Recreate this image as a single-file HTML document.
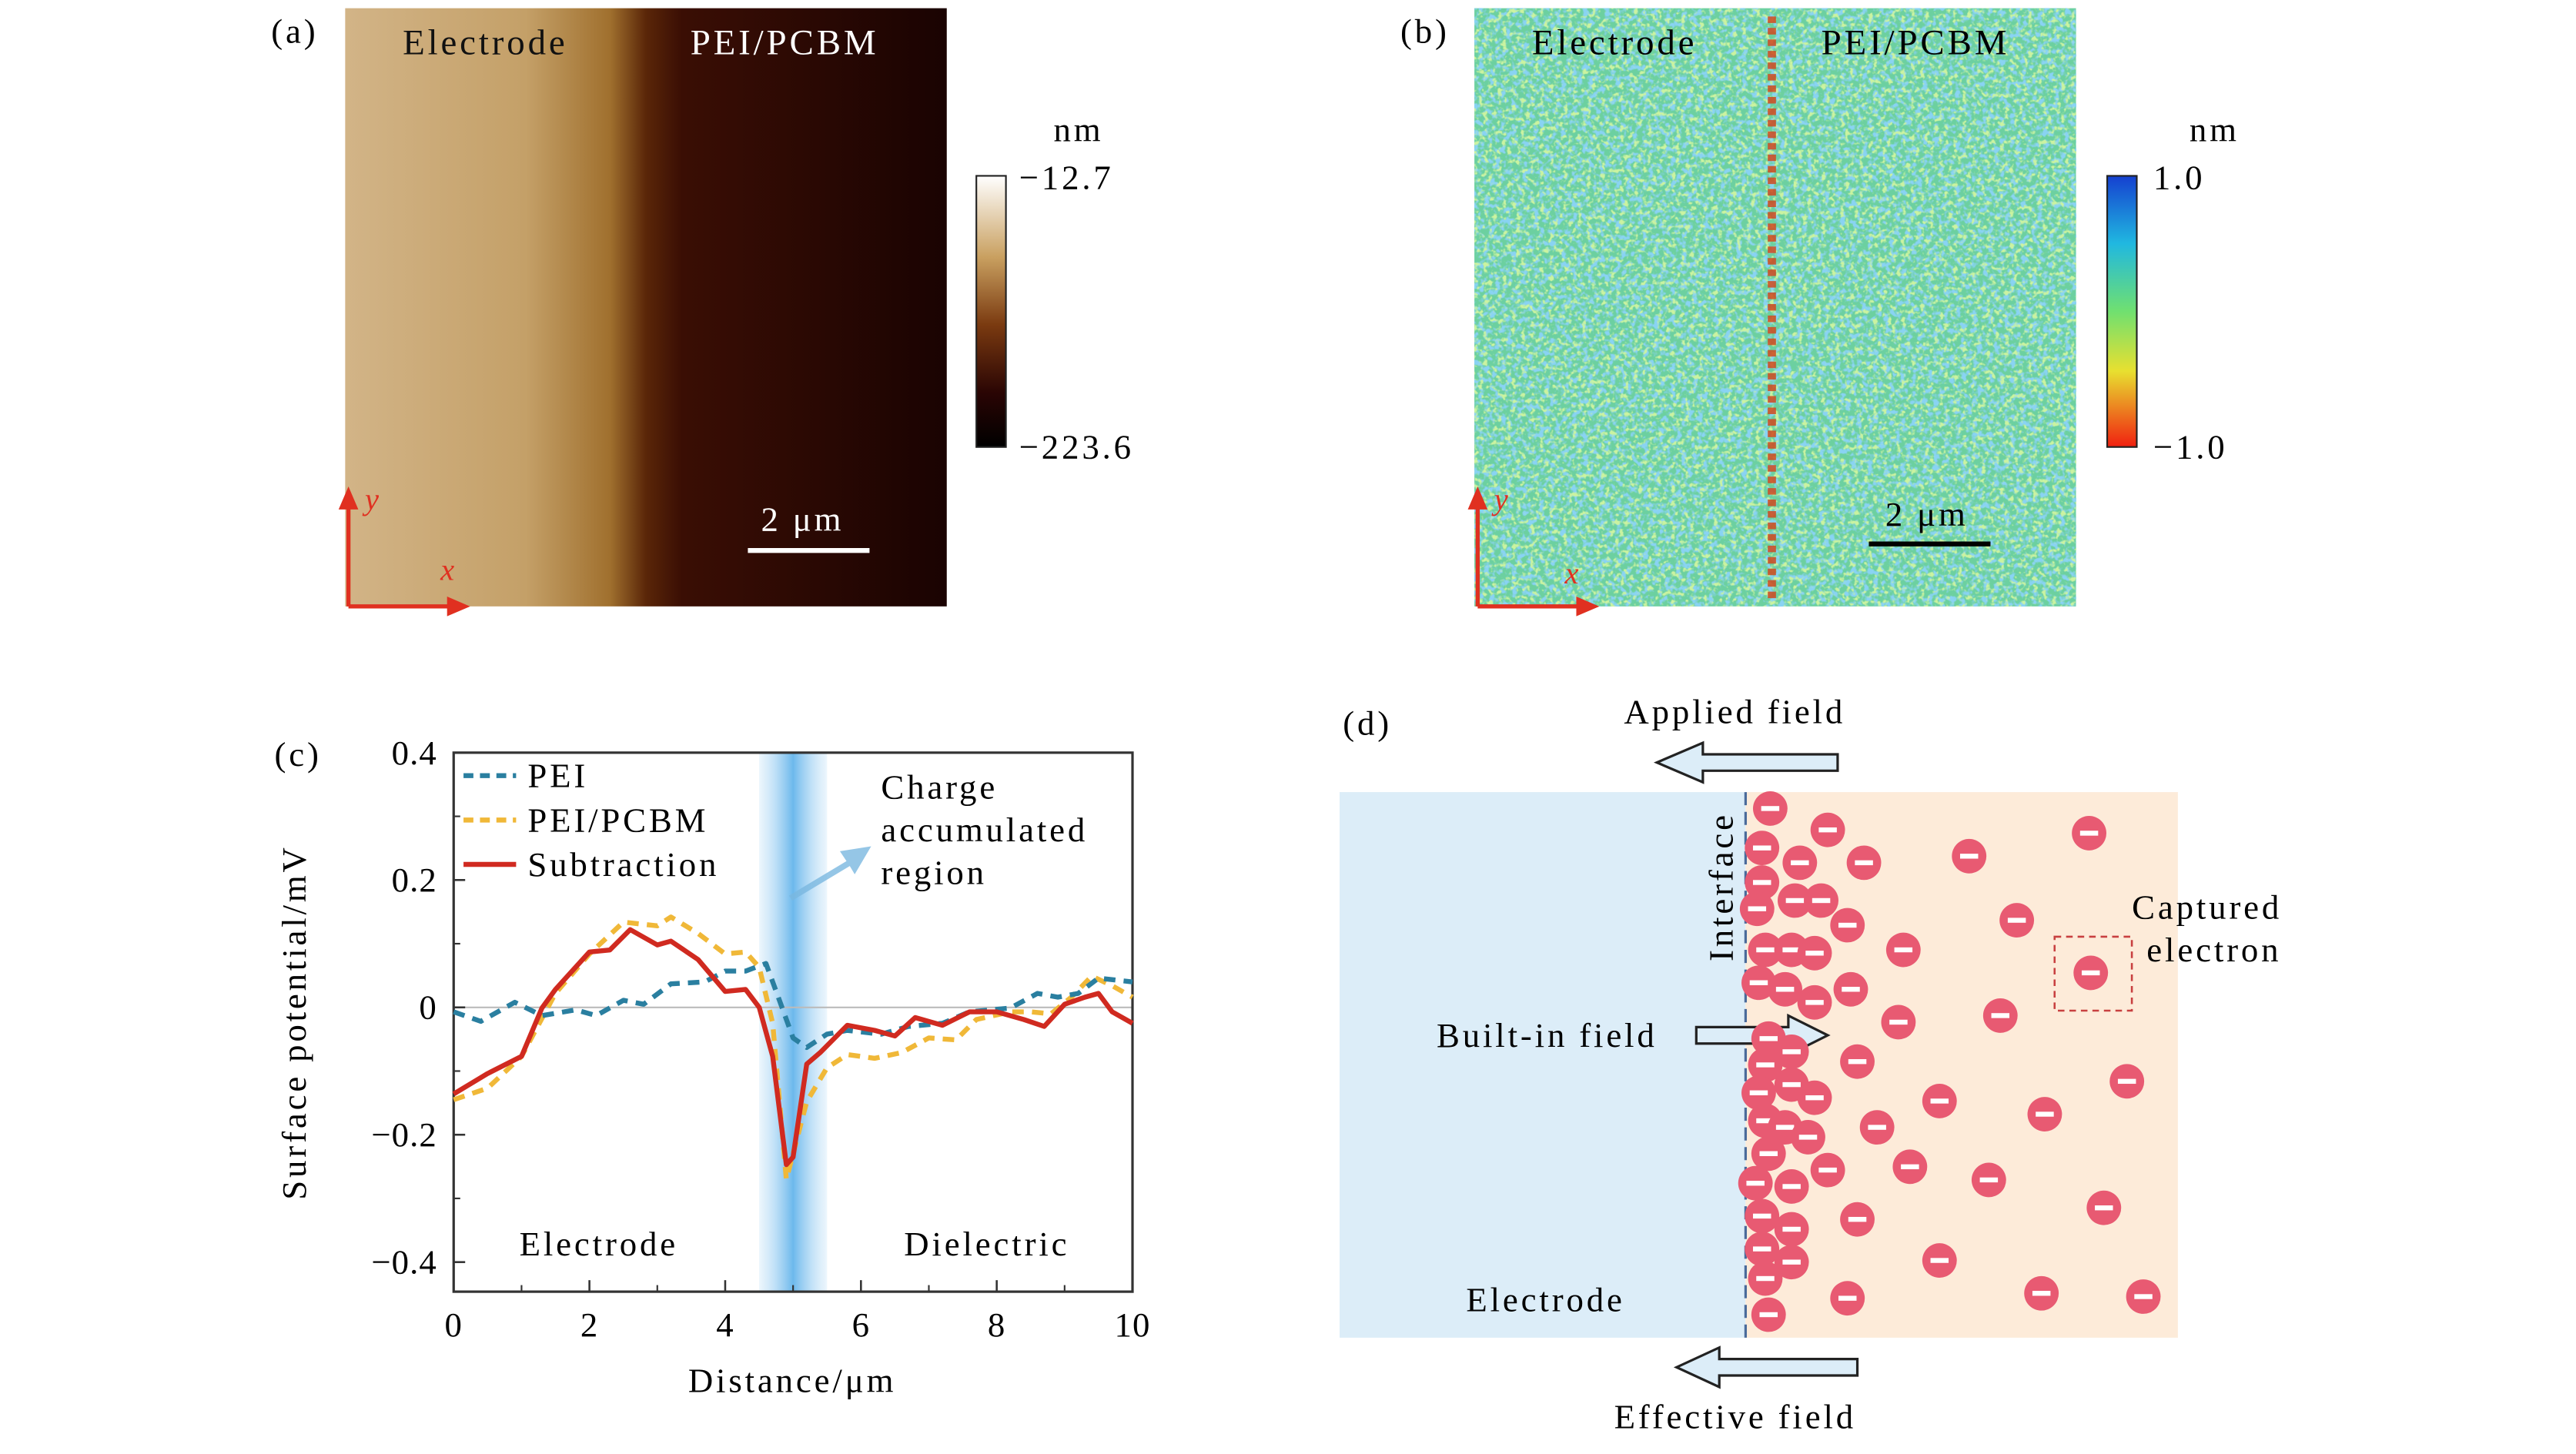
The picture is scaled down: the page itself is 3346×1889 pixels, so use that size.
<!DOCTYPE html>
<html><head><meta charset="utf-8">
<style>
html,body{margin:0;padding:0;background:#fff;overflow:hidden}
#root{position:absolute;left:0;top:0;width:1567px;height:880px;transform:scale(2.1350);transform-origin:0 0;font-family:"Liberation Serif",serif;color:#111}
svg text{font-family:"Liberation Serif",serif;letter-spacing:1.8px}
svg text.n{letter-spacing:0.5px}
</style></head><body>
<div id="root">
<svg width="1567" height="880" viewBox="0 0 1567 880" xmlns="http://www.w3.org/2000/svg">
<defs>
<linearGradient id="ga" x1="0" x2="1" y1="0" y2="0">
<stop offset="0" stop-color="#d2b487"/><stop offset="0.3" stop-color="#c4a068"/><stop offset="0.44" stop-color="#a0702e"/><stop offset="0.5" stop-color="#5a2608"/><stop offset="0.56" stop-color="#3a0e04"/><stop offset="1" stop-color="#1a0302"/>
</linearGradient>
<linearGradient id="cba" x1="0" x2="0" y1="0" y2="1">
<stop offset="0" stop-color="#fff"/><stop offset="0.3" stop-color="#c9a060"/><stop offset="0.55" stop-color="#7a3a10"/><stop offset="0.8" stop-color="#2a0504"/><stop offset="1" stop-color="#000"/>
</linearGradient>
<linearGradient id="cbb" x1="0" x2="0" y1="0" y2="1">
<stop offset="0" stop-color="#1540d0"/><stop offset="0.25" stop-color="#20b8e0"/><stop offset="0.5" stop-color="#70e070"/><stop offset="0.72" stop-color="#e8e030"/><stop offset="1" stop-color="#f02010"/>
</linearGradient>
<filter id="noiseB" x="0" y="0" width="100%" height="100%">
<feTurbulence type="fractalNoise" baseFrequency="0.3" numOctaves="2" seed="3"/>
<feColorMatrix type="matrix" values="0 0 0 0 0.25  0 0 0 0 0.65  0 0 0 0 0.9  0 0 0 5 -2.3"/>
</filter>
<filter id="noiseY" x="0" y="0" width="100%" height="100%">
<feTurbulence type="fractalNoise" baseFrequency="0.35" numOctaves="2" seed="11"/>
<feColorMatrix type="matrix" values="0 0 0 0 0.6  0 0 0 0 0.9  0 0 0 0 0.35  0 0 0 5 -2.6"/>
</filter>
<linearGradient id="band" x1="0" x2="1" y1="0" y2="0">
<stop offset="0" stop-color="#bfe0f7" stop-opacity="0.3"/><stop offset="0.5" stop-color="#6cb8ec"/><stop offset="1" stop-color="#bfe0f7" stop-opacity="0.3"/>
</linearGradient>
</defs>

<g>
<text x="165" y="26" font-size="21">(a)</text>
<rect x="210" y="5" width="366" height="364" fill="url(#ga)"/>
<text x="245" y="33" font-size="22" fill="#111">Electrode</text>
<text x="420" y="33" font-size="22" fill="#fff">PEI/PCBM</text>
<line x1="455" y1="335" x2="529" y2="335" stroke="#fff" stroke-width="3"/>
<text x="463" y="323" font-size="21" fill="#fff">2 μm</text>
<path d="M212,369 V300 M212,369 H282" stroke="#e03020" stroke-width="2.5" fill="none"/>
<path d="M206,310 L212,296 L218,310Z M272,363 L286,369 L272,375Z" fill="#e03020"/>
<text x="222" y="310" font-size="19" font-style="italic" fill="#e03020">y</text>
<text x="268" y="353" font-size="19" font-style="italic" fill="#e03020">x</text>
<rect x="594" y="107" width="18" height="165" fill="url(#cba)" stroke="#222" stroke-width="1"/>
<text x="641" y="86" font-size="21">nm</text>
<text x="620" y="115" font-size="21">−12.7</text>
<text x="620" y="279" font-size="21">−223.6</text>
</g>

<g>
<text x="852" y="26" font-size="21">(b)</text>
<rect x="897" y="5" width="366" height="364" fill="#6cd0a0"/>
<rect x="897" y="5" width="366" height="364" fill="#fff" filter="url(#noiseB)"/>
<rect x="897" y="5" width="366" height="364" fill="#fff" filter="url(#noiseY)"/>
<line x1="1078" y1="10" x2="1078" y2="365" stroke="#d04a20" stroke-width="5" stroke-dasharray="4 3" opacity="0.85"/>
<text x="932" y="33" font-size="22">Electrode</text>
<text x="1108" y="33" font-size="22">PEI/PCBM</text>
<line x1="1137" y1="331" x2="1211" y2="331" stroke="#000" stroke-width="3"/>
<text x="1147" y="320" font-size="21">2 μm</text>
<path d="M899,369 V300 M899,369 H969" stroke="#e03020" stroke-width="2.5" fill="none"/>
<path d="M893,310 L899,296 L905,310Z M959,363 L973,369 L959,375Z" fill="#e03020"/>
<text x="909" y="310" font-size="19" font-style="italic" fill="#e03020">y</text>
<text x="952" y="355" font-size="19" font-style="italic" fill="#e03020">x</text>
<rect x="1282" y="107" width="18" height="165" fill="url(#cbb)" stroke="#222" stroke-width="1"/>
<text x="1332" y="86" font-size="21">nm</text>
<text x="1310" y="115" font-size="21">1.0</text>
<text x="1310" y="279" font-size="21">−1.0</text>
</g>

<g id="chart">
<text x="167" y="466" font-size="21">(c)</text>
</g>

<g id="pd">
<text x="817" y="447" font-size="21">(d)</text>
<rect x="815" y="482" width="247" height="332" fill="#dcedf8"/>
<rect x="1062" y="482" width="263" height="332" fill="#fdebd9"/>
<line x1="1062" y1="482" x2="1062" y2="814" stroke="#4a6a9a" stroke-width="1.5" stroke-dasharray="8 4"/>
<text x="1054" y="585" font-size="21" transform="rotate(-90 1054 585)">Interface</text>
<rect x="1250" y="570" width="47" height="45" fill="none" stroke="#c84040" stroke-width="1.2" stroke-dasharray="4 3"/>
<text x="1297" y="559" font-size="21">Captured</text>
<text x="1306" y="585" font-size="21">electron</text>
<text x="988" y="440" font-size="21">Applied field</text>
<path d="M1118,459 H1036 V452 L1008,464 L1036,476 V469 H1118Z" fill="#dcedf8" stroke="#222" stroke-width="1.5"/>
<text x="874" y="637" font-size="21">Built-in field</text>
<path d="M1032,625 H1088 V618 L1112,630 L1088,642 V635 H1032Z" fill="#dcedf8" stroke="#222" stroke-width="1.5"/>
<text x="892" y="798" font-size="21">Electrode</text>
<path d="M1130,827 H1046 V820 L1020,832 L1046,844 V837 H1130Z" fill="#dcedf8" stroke="#222" stroke-width="1.5"/>
<text x="982" y="869" font-size="21">Effective field</text>
</g>
</svg>
</div>
<script>
const NS="http://www.w3.org/2000/svg";
const xTicks=[0,2,4,6,8,10];
const yTicks=[0.4,0.2,0,-0.2,-0.4];
const yTickLabels=["0.4","0.2","0","−0.2","−0.4"];
const peiX=[0,0.4,0.9,1.3,1.8,2.1,2.5,2.8,3.2,3.7,4,4.3,4.6,4.8,5.0,5.2,5.5,5.8,6.3,6.7,7.2,7.6,8.2,8.6,8.9,9.2,9.5,10];
const peiY=[-0.007,-0.022,0.008,-0.013,-0.004,-0.013,0.011,0.005,0.037,0.04,0.057,0.057,0.069,0.011,-0.048,-0.063,-0.042,-0.036,-0.042,-0.03,-0.025,-0.007,-0.001,0.022,0.016,0.022,0.046,0.04];
const pcbmX=[0,0.5,1,1.5,2,2.5,3,3.2,3.6,4,4.3,4.5,4.7,4.9,5.2,5.5,5.8,6.2,6.6,7,7.4,7.7,8.2,8.5,8.8,9.1,9.4,9.7,10];
const pcbmY=[-0.145,-0.127,-0.077,0.022,0.084,0.134,0.128,0.142,0.116,0.084,0.087,0.063,-0.025,-0.27,-0.148,-0.095,-0.074,-0.08,-0.071,-0.048,-0.051,-0.019,-0.007,-0.007,-0.01,0.016,0.049,0.034,0.016];
const subX=[0,0.5,1,1.3,1.5,2,2.3,2.6,3,3.2,3.6,4,4.3,4.5,4.7,4.9,5.0,5.2,5.4,5.8,6.2,6.5,6.8,7.2,7.6,8,8.4,8.7,9,9.3,9.5,9.7,10];
const subY=[-0.136,-0.104,-0.077,-0.001,0.028,0.087,0.09,0.122,0.098,0.104,0.075,0.025,0.028,0,-0.077,-0.247,-0.235,-0.089,-0.071,-0.028,-0.036,-0.045,-0.016,-0.028,-0.007,-0.007,-0.019,-0.03,0.005,0.016,0.022,-0.007,-0.025];
const band=[4.5,5.5];

const L=276,R=689,T=458,B=786,Y0=613,YU=77.5/0.2;
const sx=v=>L+v/10*(R-L);
const sy=v=>Y0-v*YU;
const g=document.getElementById('chart');
function mk(tag,attrs,parent){const e=document.createElementNS(NS,tag);for(const k in attrs)e.setAttribute(k,attrs[k]);(parent||g).appendChild(e);return e;}
let e;
e=mk('rect',{x:sx(band[0]),y:T,width:sx(band[1])-sx(band[0]),height:B-T,fill:'url(#band)'});


mk('line',{x1:L,x2:R,y1:sy(0),y2:sy(0),stroke:'#bbb','stroke-width':1});
e=mk('rect',{x:L,y:T,width:R-L,height:B-T,fill:'none',stroke:'#333','stroke-width':1.5});


xTicks.forEach(v=>{
  mk('line',{x1:sx(v),x2:sx(v),y1:B,y2:B-7,stroke:'#333','stroke-width':1.2});
  e=mk('text',{x:sx(v),y:B+27,'font-size':21,'text-anchor':'middle','class':'n'});e.textContent=v;
  
  
});
for(let v=1;v<10;v+=2){mk('line',{x1:sx(v),x2:sx(v),y1:B,y2:B-4,stroke:'#333','stroke-width':1});}
yTicks.forEach((v,i)=>{
  mk('line',{x1:L,x2:L+7,y1:sy(v),y2:sy(v),stroke:'#333','stroke-width':1.2});
  e=mk('text',{x:L-10,y:sy(v)+7,'font-size':21,'text-anchor':'end','class':'n'});e.textContent=yTickLabels[i];
  
  
});
for(let v=-0.4;v<=0.4;v+=0.1){mk('line',{x1:L,x2:L+4,y1:sy(v),y2:sy(v),stroke:'#333','stroke-width':1});}
function path(xs,ys){return xs.map((x,i)=>(i?'L':'M')+sx(x).toFixed(1)+','+sy(ys[i]).toFixed(1)).join('');}
e=mk('path',{d:path(pcbmX,pcbmY),fill:'none',stroke:'#f0b838','stroke-width':3,'stroke-dasharray':'7 5','stroke-linejoin':'round'});


e=mk('path',{d:path(peiX,peiY),fill:'none',stroke:'#2a7fa0','stroke-width':3,'stroke-dasharray':'7 5','stroke-linejoin':'round'});


e=mk('path',{d:path(subX,subY),fill:'none',stroke:'#d02a20','stroke-width':3,'stroke-linejoin':'round'});


const leg=[['PEI','#2a7fa0','6 4'],['PEI/PCBM','#f0b838','6 4'],['Subtraction','#d02a20','']];
leg.forEach((l,i)=>{
  const y=472+i*27;
  mk('line',{x1:282,x2:314,y1:y,y2:y,stroke:l[1],'stroke-width':3,'stroke-dasharray':l[2]});
  e=mk('text',{x:321,y:y+7,'font-size':21});e.textContent=l[0];
  
  
});
[['Charge',536,486],['accumulated',536,512],['region',536,538],['Electrode',316,764],['Dielectric',550,764]].forEach(a=>{e=mk('text',{x:a[1],y:a[2],'font-size':21});e.textContent=a[0];});
mk('path',{d:'M480,545 L515,524 L511,518 L530,515 L520,532 L517,527 L482,548Z',fill:'#7ab8e0',opacity:0.8});
e=mk('text',{x:482,y:847,'font-size':21,'text-anchor':'middle'});e.textContent='Distance/μm';


e=mk('text',{x:186,y:622,'font-size':21,'text-anchor':'middle',transform:'rotate(-90 186 622)'});e.textContent='Surface potential/mV';



const pd=document.getElementById('pd');
const el=[[1077,492],[1112,505],[1271,507],[1072,516],[1095,525],[1134,525],[1198,521],[1072,537],[1092,548],[1108,548],[1069,553],[1124,563],[1227,560],[1074,578],[1090,578],[1104,580],[1158,578],[1272,592],[1070,598],[1086,602],[1104,610],[1126,602],[1155,622],[1217,618],[1076,632],[1090,640],[1130,646],[1074,648],[1070,665],[1090,660],[1104,668],[1180,670],[1294,658],[1074,682],[1086,686],[1100,692],[1142,686],[1244,678],[1076,702],[1068,720],[1090,722],[1112,712],[1162,710],[1210,718],[1072,740],[1090,748],[1130,742],[1280,735],[1072,760],[1090,768],[1180,767],[1074,778],[1124,790],[1242,787],[1304,789],[1076,800]];
el.forEach(p=>{
  const c=mk('circle',{cx:p[0],cy:p[1],r:10.5,fill:'#e85a72'},pd);
  
  
  mk('rect',{x:p[0]-5.5,y:p[1]-1.5,width:11,height:3,fill:'#fff'},pd);
});
</script>
</body></html>
